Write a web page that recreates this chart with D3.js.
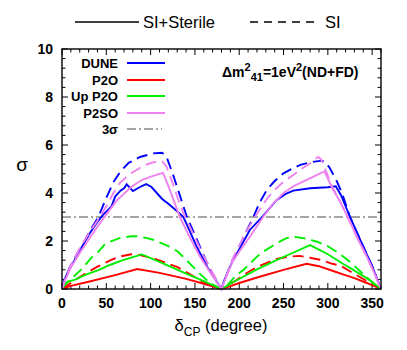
<!DOCTYPE html>
<html><head><meta charset="utf-8">
<script src="https://cdn.jsdelivr.net/npm/d3@7"></script>
<style>
html,body{margin:0;padding:0;background:#fff;}
text{font-family:"Liberation Sans",Arial,Helvetica,sans-serif;}
</style></head>
<body>
<svg id="c" width="407" height="350"></svg>
<script>
// ---- data (delta_CP in degrees, sigma) ----
const xTicks = [0, 50, 100, 150, 200, 250, 300, 350];
const yTicks = [0, 2, 4, 6, 8, 10];
const legendNames = ["DUNE", "P2O", "Up P2O", "P2SO"];
const legendColors = ["#0000ff", "#ff0000", "#00ee00", "#ee82ee"];

const duneSterile = [[0,0],[3,0.4],[8,0.8],[12,1.05],[20,1.6],[31,2.3],[40,2.8],[46,3.08],[52,3.3],[56,3.45],[60,3.85],[66,4.1],[70,4.2],[73,4.36],[77,4.2],[80,4.08],[88,4.25],[95,4.37],[101,4.25],[107,4.0],[113,3.75],[120,3.55],[128,3.3],[137,3.0],[145,2.35],[152,1.76],[165,0.85],[180,0],
  [183,0.35],[187,0.7],[193,1.2],[200,1.65],[212,2.46],[227,3.05],[242,3.7],[252,3.95],[261,4.1],[280,4.2],[300,4.24],[309,4.28],[315,3.9],[325,3.0],[340,1.76],[350,0.95],[360,0]];
const duneSI = [[0,0],[4,0.5],[9,0.92],[16,1.4],[24,1.9],[32,2.45],[41,3.0],[50,3.8],[58,4.45],[66,4.9],[75,5.25],[88,5.5],[103,5.65],[113,5.68],[118,5.5],[125,4.8],[133,3.9],[141,3.0],[150,2.25],[159,1.48],[168,0.75],[180,0],
  [185,0.5],[190,1.0],[200,1.76],[208,2.4],[216,3.0],[223,3.6],[231,4.12],[240,4.5],[250,4.82],[260,5.02],[269,5.17],[280,5.28],[293,5.35],[297,5.3],[302,5.05],[310,4.5],[316,4.0],[325,3.0],[340,1.76],[350,0.95],[360,0]];
const p2oSterile = [[0,0],[4,0.06],[10,0.13],[30,0.3],[60,0.58],[85,0.83],[110,0.67],[139,0.43],[160,0.22],[180,0],
  [190,0.12],[200,0.25],[223,0.51],[250,0.8],[276,1.05],[290,0.95],[306,0.75],[318,0.6],[330,0.45],[344,0.25],[360,0]];
const p2oSI = [[0,0],[5,0.12],[12,0.3],[20,0.5],[30,0.72],[40,0.93],[55,1.2],[65,1.35],[78,1.45],[84,1.45],[95,1.35],[105,1.25],[118,1.08],[131,0.9],[145,0.6],[156,0.37],[168,0.15],[180,0],
  [190,0.2],[200,0.45],[212,0.75],[225,1.0],[242,1.25],[256,1.35],[268,1.38],[280,1.3],[291,1.22],[305,1.05],[314,0.98],[329,0.65],[344,0.33],[360,0]];
const upp2oSterile = [[0,0],[3,0.2],[6,0.3],[14,0.38],[27,0.6],[41,0.79],[54,1.0],[67,1.18],[79,1.32],[90,1.44],[112,1.1],[135,0.72],[158,0.36],[180,0],
  [190,0.22],[204,0.5],[220,0.82],[242,1.2],[260,1.5],[280,1.83],[300,1.45],[317,1.05],[325,0.88],[347,0.38],[360,0]];
const upp2oSI = [[0,0],[4,0.2],[9,0.38],[14,0.55],[18,0.68],[24,0.9],[33,1.3],[41,1.55],[48,1.85],[56,2.0],[65,2.12],[78,2.2],[84,2.2],[95,2.13],[105,2.03],[114,1.88],[122,1.75],[131,1.55],[144,1.07],[156,0.62],[167,0.25],[180,0],
  [185,0.1],[190,0.3],[196,0.55],[205,0.8],[212,1.05],[220,1.35],[230,1.62],[242,1.9],[252,2.1],[261,2.18],[275,2.1],[288,1.97],[300,1.78],[310,1.55],[321,1.25],[333,0.86],[345,0.45],[355,0.1],[360,0]];
const p2soSterile = [[0,0],[4,0.4],[10,0.9],[20,1.5],[30,2.05],[40,2.6],[48,3.0],[56,3.4],[62,3.7],[68,3.9],[78,4.25],[90,4.54],[102,4.7],[114,4.84],[120,4.3],[126,3.7],[133,3.0],[145,2.1],[156,1.33],[168,0.65],[180,0],
  [185,0.5],[192,1.1],[200,1.55],[212,2.18],[227,3.0],[238,3.55],[250,4.0],[262,4.3],[272,4.47],[285,4.7],[296,4.9],[300,4.6],[305,4.2],[313,3.7],[325,2.8],[335,2.0],[344,1.35],[352,0.7],[360,0]];
const p2soSI = [[0,0],[4,0.45],[10,1.0],[20,1.7],[30,2.3],[40,2.85],[51,3.5],[58,4.0],[65,4.4],[75,4.75],[84,4.96],[93,5.15],[103,5.28],[113,5.33],[118,5.1],[125,4.4],[131,3.75],[137,3.15],[148,2.3],[158,1.5],[169,0.75],[180,0],
  [186,0.6],[193,1.3],[200,1.8],[209,2.46],[216,2.9],[223,3.3],[232,3.8],[242,4.2],[251,4.5],[261,4.75],[270,5.0],[280,5.24],[287,5.45],[289,5.5],[292,5.42],[295,5.2],[299,4.82],[305,4.25],[313,3.7],[325,2.8],[335,2.0],[344,1.35],[352,0.7],[360,0]];
const threeSigma = 3;

// ---- layout ----
const svg = d3.select("#c");
const L = 62, R = 381, T = 49, B = 289;
const x = d3.scaleLinear().domain([0, 360]).range([L, R]);
const y = d3.scaleLinear().domain([0, 10]).range([B, T]);

// ticks (inward on all sides)
const g = svg.append("g");
const xMinor = d3.range(0, 361, 10);
const yMinor = d3.range(0, 10.001, 0.4);
xMinor.forEach(v => {
  const major = v % 50 === 0;
  const len = major ? 6 : 3.5;
  g.append("line").attr("x1", x(v)).attr("x2", x(v)).attr("y1", B).attr("y2", B - len).attr("stroke", "#000").attr("stroke-width", 1);
  g.append("line").attr("x1", x(v)).attr("x2", x(v)).attr("y1", T).attr("y2", T + len).attr("stroke", "#000").attr("stroke-width", 1);
});
yMinor.forEach(v => {
  const major = Math.abs(v / 2 - Math.round(v / 2)) < 1e-6;
  const len = major ? 6 : 3.5;
  g.append("line").attr("y1", y(v)).attr("y2", y(v)).attr("x1", L).attr("x2", L + len).attr("stroke", "#000").attr("stroke-width", 1);
  g.append("line").attr("y1", y(v)).attr("y2", y(v)).attr("x1", R).attr("x2", R - len).attr("stroke", "#000").attr("stroke-width", 1);
});

// tick labels
xTicks.forEach(v => {
  svg.append("text").attr("x", x(v)).attr("y", 308).attr("text-anchor", "middle")
    .attr("font-size", 14).attr("font-weight", "bold").text(v);
});
yTicks.forEach(v => {
  svg.append("text").attr("x", 53).attr("y", y(v) + 5).attr("text-anchor", "end")
    .attr("font-size", 14).attr("font-weight", "bold").text(v);
});

// 3 sigma line
svg.append("line").attr("x1", x(0)).attr("x2", x(360)).attr("y1", y(threeSigma)).attr("y2", y(threeSigma))
  .attr("stroke", "#888").attr("stroke-width", 1.3).attr("stroke-dasharray", "9,3,2,3");

// curves
const line = d3.line().x(d => x(d[0])).y(d => y(d[1]));
const series = [
  [duneSterile, duneSI, legendColors[0]],
  [p2oSterile, p2oSI, legendColors[1]],
  [upp2oSterile, upp2oSI, legendColors[2]],
  [p2soSterile, p2soSI, legendColors[3]],
];
series.forEach(s => {
  svg.append("path").attr("d", line(s[0])).attr("fill", "none").attr("stroke", s[2]).attr("stroke-width", 1.9);
  svg.append("path").attr("d", line(s[1])).attr("fill", "none").attr("stroke", s[2]).attr("stroke-width", 1.9)
    .attr("stroke-dasharray", "11,6");
});

// frame
svg.append("rect").attr("x", L).attr("y", T).attr("width", R - L).attr("height", B - T)
  .attr("fill", "none").attr("stroke", "#000").attr("stroke-width", 1.4);

// inner legend
const legY = [63, 80, 96, 113, 129];
legendNames.forEach((n, i) => {
  svg.append("text").attr("x", 118).attr("y", legY[i] + 5).attr("text-anchor", "end")
    .attr("font-size", 13).attr("font-weight", "bold").text(n);
  svg.append("line").attr("x1", 127).attr("x2", 165).attr("y1", legY[i]).attr("y2", legY[i])
    .attr("stroke", legendColors[i]).attr("stroke-width", 1.8);
});
svg.append("text").attr("x", 118).attr("y", legY[4] + 5).attr("text-anchor", "end")
  .attr("font-size", 13).attr("font-weight", "bold").text("3σ");
svg.append("line").attr("x1", 127).attr("x2", 162).attr("y1", legY[4]).attr("y2", legY[4])
  .attr("stroke", "#888").attr("stroke-width", 1.3).attr("stroke-dasharray", "9,3,2,3");

// annotation
const ann = svg.append("text").attr("x", 222).attr("y", 77).attr("font-size", 14).attr("font-weight", "bold");
ann.append("tspan").text("Δm");
ann.append("tspan").attr("dy", -6).attr("font-size", 11).text("2");
ann.append("tspan").attr("dy", 10).attr("font-size", 11).text("41");
ann.append("tspan").attr("dy", -4).text("=1eV");
ann.append("tspan").attr("dy", -6).attr("font-size", 11).text("2");
ann.append("tspan").attr("dy", 6).text("(ND+FD)");

// top legend
svg.append("line").attr("x1", 75).attr("x2", 139).attr("y1", 22).attr("y2", 22).attr("stroke", "#000").attr("stroke-width", 1.3);
svg.append("text").attr("x", 143).attr("y", 28).attr("font-size", 16.5).text("SI+Sterile");
svg.append("line").attr("x1", 250).attr("x2", 314).attr("y1", 22).attr("y2", 22).attr("stroke", "#000").attr("stroke-width", 1.3)
  .attr("stroke-dasharray", "8,6");
svg.append("text").attr("x", 325).attr("y", 28).attr("font-size", 16.5).text("SI");

// axis titles
svg.append("text").attr("x", 22).attr("y", 171).attr("text-anchor", "middle").attr("font-size", 19).text("σ");
const xt = svg.append("text").attr("x", 221).attr("y", 331).attr("text-anchor", "middle").attr("font-size", 16.5);
xt.append("tspan").text("δ");
xt.append("tspan").attr("dy", 5).attr("font-size", 12).text("CP");
xt.append("tspan").attr("dy", -5).text(" (degree)");
</script>
</body></html>
